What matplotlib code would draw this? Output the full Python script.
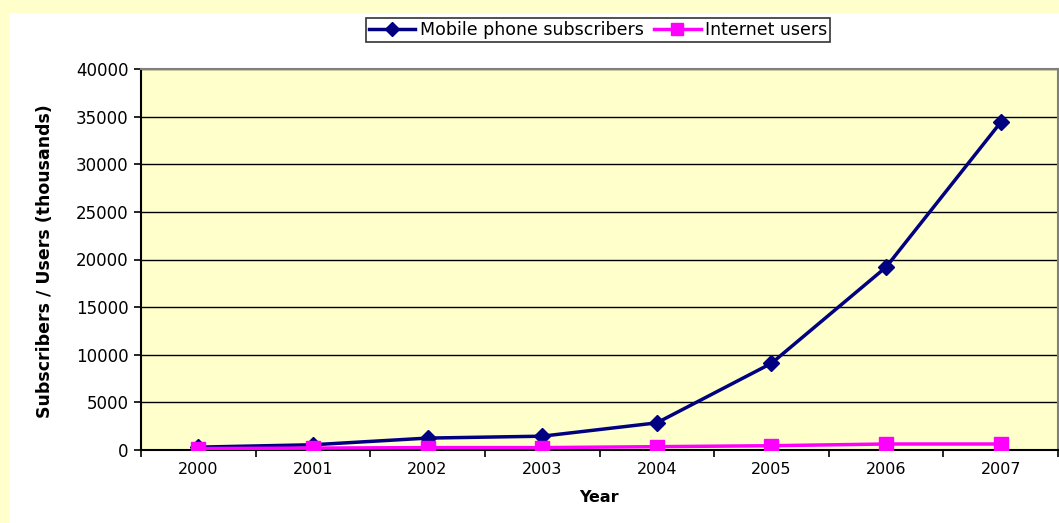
import numpy as np
import matplotlib
matplotlib.use("Agg")
from matplotlib import pyplot as plt
import matplotlib.patches as patches

years = ["2000", "2001", "2002", "2003", "2004", "2005", "2006", "2007"]
mobile = [300, 550, 1250, 1450, 2850, 9100, 19200, 34400]
internet = [150, 200, 250, 250, 350, 450, 630, 630]
y_ticks = [0, 5000, 10000, 15000, 20000, 25000, 30000, 35000, 40000]

# the original text is wide, DejaVu matches its proportions better than Arial
plt.rcParams['font.family'] = ['DejaVu Sans']

W, H = 1059, 523
fig = plt.figure(figsize=(W / 100, H / 100), dpi=100)
fig.patch.set_facecolor('#FFFFCC')
# white chart area inside the yellow frame
fig.add_artist(patches.Rectangle((9 / W, 0), 1, 1 - 13 / H, transform=fig.transFigure,
                                 facecolor='white', edgecolor='none', zorder=0))

ax = fig.add_axes([141 / W, (H - 450) / H, (1058 - 141) / W, (450 - 69) / H])
ax.set_facecolor('#FFFFCC')

x = np.arange(len(years))
ax.plot(x, mobile, color='#000080', lw=2.5, marker='D', ms=8.5, label='Mobile phone subscribers', zorder=4)
ax.plot(x, internet, color='#FF00FF', lw=2.5, marker='s', ms=10, label='Internet users', zorder=5)

ax.set_ylim(0, 40000)
ax.set_yticks(y_ticks)
ax.set_yticklabels([str(v) for v in y_ticks], fontsize=12)
ax.yaxis.grid(True, color='black', lw=1)
ax.set_axisbelow(True)

ax.set_xlim(-0.5, len(years) - 0.5)
ax.set_xticks(x)
ax.set_xticklabels(years, fontsize=11.5)
ax.tick_params(axis='x', which='major', length=0, pad=9)
ax.set_xticks(np.arange(-0.5, len(years)), minor=True)
ax.tick_params(axis='x', which='minor', length=5, width=1.2, direction='out')
ax.tick_params(axis='y', length=5, width=1.2, direction='out', pad=4)

for s in ['top', 'right']:
    ax.spines[s].set_color('#808080')
    ax.spines[s].set_linewidth(1.5)
for s in ['left', 'bottom']:
    ax.spines[s].set_color('black')
    ax.spines[s].set_linewidth(1.5)

ax.set_xlabel('Year', fontsize=11.5, fontweight='bold', labelpad=9)
fig.text(45 / W, 1 - 261 / H, 'Subscribers / Users (thousands)', rotation=90,
         fontsize=12.5, fontweight='bold', ha='center', va='center')

leg = fig.legend(loc='center', bbox_to_anchor=(598 / W, 1 - 30 / H), ncol=2,
                 fontsize=12.5, frameon=True, fancybox=False, edgecolor='black',
                 handlelength=2.7, handletextpad=0.25, columnspacing=0.6,
                 borderpad=0.15, markerscale=0.85)
leg.get_frame().set_linewidth(1.2)

fig.savefig('out.png', dpi=100, facecolor=fig.get_facecolor())
